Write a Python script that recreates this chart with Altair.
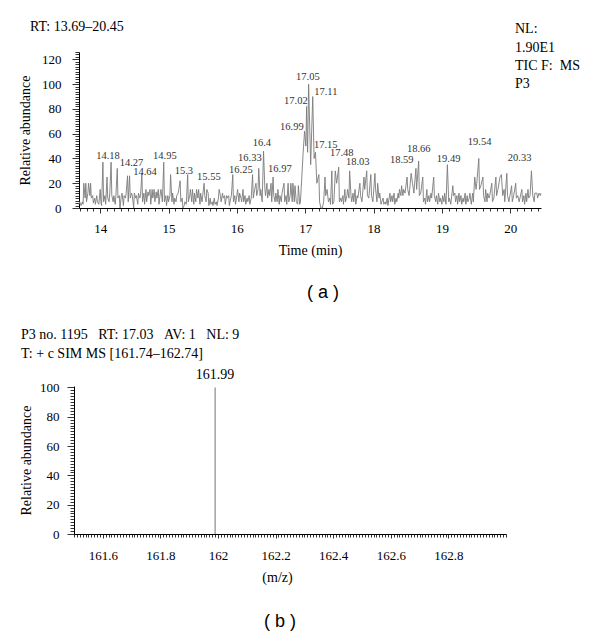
import json
import altair as alt
import pandas as pd

SERIF = "Liberation Serif"
SANS = "Liberation Sans"

# ---------------- panel (a): total ion chromatogram ----------------
rt_time = [
    13.69, 13.70, 13.72, 13.74, 13.75, 13.76, 13.78, 13.79, 13.80, 13.82,
    13.83, 13.85, 13.86, 13.87, 13.89, 13.90, 13.92, 13.93, 13.95, 13.96,
    13.98, 14.00, 14.01, 14.02, 14.04, 14.05, 14.07, 14.08, 14.10, 14.11,
    14.13, 14.14, 14.16, 14.17, 14.19, 14.20, 14.22, 14.23, 14.25, 14.26,
    14.28, 14.29, 14.31, 14.32, 14.34, 14.35, 14.37, 14.38, 14.40, 14.41,
    14.43, 14.44, 14.46, 14.47, 14.49, 14.50, 14.52, 14.53, 14.55, 14.56,
    14.58, 14.59, 14.61, 14.62, 14.64, 14.65, 14.67, 14.68, 14.70, 14.71,
    14.73, 14.74, 14.76, 14.77, 14.79, 14.80, 14.82, 14.83, 14.85, 14.86,
    14.88, 14.89, 14.91, 14.93, 14.94, 14.96, 14.97, 14.99, 15.00, 15.02,
    15.03, 15.05, 15.06, 15.08, 15.09, 15.11, 15.12, 15.14, 15.15, 15.17,
    15.18, 15.20, 15.21, 15.23, 15.24, 15.26, 15.28, 15.29, 15.31, 15.32,
    15.34, 15.35, 15.37, 15.38, 15.40, 15.41, 15.43, 15.44, 15.46, 15.47,
    15.49, 15.50, 15.52, 15.53, 15.55, 15.56, 15.58, 15.59, 15.61, 15.62,
    15.64, 15.65, 15.67, 15.68, 15.70, 15.71, 15.73, 15.74, 15.76, 15.77,
    15.79, 15.80, 15.82, 15.83, 15.85, 15.86, 15.88, 15.89, 15.91, 15.92,
    15.94, 15.95, 15.97, 15.98, 16.00, 16.01, 16.03, 16.04, 16.06, 16.07,
    16.09, 16.10, 16.12, 16.13, 16.15, 16.16, 16.18, 16.19, 16.21, 16.23,
    16.24, 16.26, 16.28, 16.29, 16.31, 16.32, 16.34, 16.35, 16.37, 16.39,
    16.41, 16.42, 16.44, 16.45, 16.47, 16.48, 16.50, 16.51, 16.53, 16.54,
    16.56, 16.57, 16.59, 16.60, 16.62, 16.63, 16.65, 16.66, 16.69, 16.70,
    16.72, 16.73, 16.75, 16.76, 16.78, 16.79, 16.81, 16.82, 16.84, 16.85,
    16.87, 16.89, 16.90, 16.92, 16.93, 16.95, 16.97, 16.99, 17.01, 17.02,
    17.035, 17.05, 17.08, 17.11, 17.13, 17.15, 17.17, 17.20, 17.21, 17.23,
    17.25, 17.27, 17.29, 17.30, 17.32, 17.34, 17.36, 17.37, 17.39, 17.40,
    17.42, 17.44, 17.46, 17.49, 17.50, 17.52, 17.53, 17.55, 17.56, 17.58,
    17.59, 17.61, 17.62, 17.64, 17.65, 17.67, 17.68, 17.70, 17.71, 17.73,
    17.74, 17.76, 17.77, 17.80, 17.81, 17.83, 17.86, 17.87, 17.90, 17.91,
    17.93, 17.96, 17.97, 17.99, 18.02, 18.03, 18.05, 18.06, 18.08, 18.09,
    18.11, 18.12, 18.14, 18.15, 18.17, 18.18, 18.20, 18.21, 18.24, 18.25,
    18.27, 18.28, 18.30, 18.31, 18.33, 18.34, 18.36, 18.37, 18.38, 18.40,
    18.41, 18.43, 18.44, 18.46, 18.49, 18.50, 18.52, 18.55, 18.57, 18.59,
    18.62, 18.63, 18.66, 18.67, 18.69, 18.72, 18.73, 18.75, 18.76, 18.78,
    18.79, 18.81, 18.82, 18.84, 18.85, 18.88, 18.89, 18.91, 18.92, 18.94,
    18.95, 18.97, 18.98, 19.00, 19.01, 19.03, 19.04, 19.06, 19.08, 19.10,
    19.11, 19.13, 19.16, 19.17, 19.19, 19.20, 19.22, 19.23, 19.25, 19.26,
    19.28, 19.29, 19.31, 19.32, 19.34, 19.35, 19.37, 19.38, 19.40, 19.41,
    19.43, 19.45, 19.46, 19.48, 19.50, 19.51, 19.54, 19.55, 19.57, 19.60,
    19.61, 19.63, 19.64, 19.66, 19.67, 19.69, 19.70, 19.73, 19.74, 19.76,
    19.79, 19.80, 19.82, 19.85, 19.87, 19.89, 19.91, 19.92, 19.95, 19.96,
    19.98, 20.02, 20.03, 20.05, 20.08, 20.09, 20.11, 20.13, 20.17, 20.18,
    20.20, 20.21, 20.23, 20.24, 20.26, 20.27, 20.29, 20.31, 20.33, 20.35,
    20.36, 20.39, 20.40, 20.42, 20.44, 20.45,
]
rt_abund = [
    3, 5, 2, 5, 3, 20, 8, 20, 5, 12,
    20, 10, 20, 8, 10, 4, 8, 3, 10, 5,
    3, 15, 5, 2, 37, 5, 10, 3, 25, 8,
    5, 12, 37, 10, 5, 10, 3, 10, 32, 8,
    10, 0, 10, 12, 2, 10, 8, 12, 26, 5,
    26, 8, 12, 10, 0, 12, 8, 10, 3, 12,
    8, 10, 28, 5, 12, 3, 15, 5, 13, 10,
    15, 3, 15, 8, 15, 5, 13, 8, 15, 3,
    12, 15, 5, 37, 5, 10, 2, 10, 5, 10,
    27, 5, 12, 3, 8, 5, 10, 12, 15, 22,
    5, 8, 0, 2, 5, 3, 27, 5, 10, 15,
    5, 15, 3, 12, 5, 15, 8, 15, 3, 12,
    5, 10, 20, 10, 5, 15, 12, 2, 8, 3,
    5, 2, 8, 3, 5, 2, 8, 15, 10, 5,
    12, 8, 10, 3, 10, 8, 10, 2, 8, 10,
    27, 5, 10, 3, 10, 15, 5, 12, 8, 5,
    15, 5, 10, 3, 8, 5, 10, 3, 8, 27,
    8, 15, 20, 10, 15, 32, 10, 15, 5, 46,
    15, 10, 20, 8, 15, 10, 20, 5, 25, 10,
    5, 12, 5, 15, 3, 10, 5, 12, 20, 5,
    10, 3, 20, 5, 10, 20, 5, 20, 5, 18,
    5, 3, 18, 3, 5, 25, 45, 62, 50, 82,
    45, 100, 35, 90, 40, 45, 20, 27, 5, 0,
    0, 5, 25, 10, 15, 5, 8, 3, 30, 3,
    5, 30, 20, 33, 5, 8, 5, 10, 3, 15,
    5, 10, 15, 8, 30, 10, 5, 12, 5, 15,
    3, 10, 8, 20, 10, 5, 25, 15, 30, 10,
    8, 27, 10, 5, 28, 15, 5, 20, 8, 12,
    3, 5, 8, 3, 5, 3, 8, 2, 12, 5,
    10, 5, 12, 3, 8, 5, 12, 8, 15, 10,
    18, 10, 15, 12, 25, 15, 10, 28, 20, 12,
    32, 15, 38, 10, 12, 25, 5, 8, 3, 15,
    5, 10, 5, 12, 8, 25, 10, 5, 10, 3,
    12, 5, 8, 3, 10, 5, 12, 3, 35, 5,
    8, 3, 18, 10, 12, 5, 10, 3, 12, 5,
    10, 3, 8, 5, 12, 3, 10, 5, 8, 12,
    3, 12, 5, 25, 15, 20, 40, 15, 18, 25,
    10, 5, 15, 5, 12, 8, 10, 20, 5, 8,
    25, 10, 15, 25, 27, 10, 15, 5, 28, 10,
    5, 18, 5, 10, 20, 8, 10, 5, 15, 5,
    10, 3, 12, 5, 15, 8, 10, 30, 10, 5,
    12, 12, 8, 12, 10, 12,
]
assert len(rt_time) == len(rt_abund)

# peak annotations (text and where each label sits, in data units)
peak_label = ["14.18", "14.27", "14.64", "14.95", "15.3", "15.55", "16.25", "16.33",
              "16.4", "16.97", "16.99", "17.02", "17.05", "17.11", "17.15", "17.48",
              "18.03", "18.59", "18.66", "19.49", "19.54", "20.33"]
peak_label_time = [14.114, 14.458, 14.655, 14.947, 15.225, 15.591, 16.058, 16.19,
                   16.365, 16.629, 16.804, 16.863, 17.038, 17.301, 17.301, 17.535,
                   17.769, 18.412, 18.661, 19.099, 19.552, 20.137]
peak_label_abund = [41.9, 36.2, 29.0, 41.9, 29.8, 25.0, 30.6, 40.3,
                    52.3, 31.4, 65.2, 86.3, 105.5, 93.4, 50.7, 44.3,
                    37.0, 38.7, 47.5, 39.5, 53.2, 40.3]

x_major_a = [14.0, 15.0, 16.0, 17.0, 18.0, 19.0, 20.0]
x_ticks_a = [round(13.7 + 0.1 * i, 1) for i in range(68)]
y_ticks_a = list(range(0, 127, 2))

# ---------------- panel (b): SIM mass spectrum ----------------
mz_value = [161.99]
mz_abund = [100]
mz_label = ["161.99"]

x_major_b = [161.6, 161.8, 162.0, 162.2, 162.4, 162.6, 162.8]
x_ticks_b = [round(161.5 + 0.01 * i, 2) for i in range(151)]
y_ticks_b = list(range(0, 101, 2))

trace_df = pd.DataFrame({"t": rt_time, "a": rt_abund})
lab_df = pd.DataFrame({"t": peak_label_time, "a": peak_label_abund, "txt": peak_label})
ms_df = pd.DataFrame({"mz": mz_value, "ab": mz_abund, "txt": mz_label})
one = pd.DataFrame({"k": [0]})


def note(txt, x, y, size=14, align="left", font=SERIF):
    return alt.Chart(one).mark_text(
        text=txt, align=align, baseline="middle", font=font, fontSize=size, color="black"
    ).encode(x=alt.value(x), y=alt.value(y))


def marker(x, y1, y2):
    return alt.Chart(one).mark_rule(strokeOpacity=0).encode(
        x=alt.value(x), x2=alt.value(x), y=alt.value(y1), y2=alt.value(y2)
    )


common_axis = dict(grid=False, labelFont=SERIF, titleFont=SERIF, labelFontSize=13,
                   titleFontSize=14, titleFontWeight="normal", labelColor="black",
                   titleColor="black", domainColor="black", tickColor="black",
                   tickWidth=0.8, domainWidth=1, labelOverlap=False, labelFlush=False,
                   tickCount=1000)

maj_a = json.dumps(x_major_a)
x_axis_a = alt.Axis(
    values=x_ticks_a,
    labelExpr=f"indexof({maj_a}, datum.value) >= 0 ? toString(datum.value) : ''",
    tickSize={"condition": {"test": f"indexof({maj_a}, datum.value) >= 0", "value": 5}, "value": 3},
    title="Time (min)", labelPadding=9, titlePadding=8, **common_axis)
y_axis_a = alt.Axis(
    values=y_ticks_a,
    labelExpr="datum.value % 20 == 0 ? toString(datum.value) : ''",
    tickSize={"condition": {"test": "datum.value % 20 == 0", "value": 7}, "value": 4},
    title="Relative abundance", labelPadding=11, titlePadding=9, **common_axis)

trace = alt.Chart(trace_df).mark_line(color="#7a7a7a", strokeWidth=0.9).encode(
    x=alt.X("t:Q", scale=alt.Scale(domain=[13.69, 20.45], nice=False, zero=False), axis=x_axis_a),
    y=alt.Y("a:Q", scale=alt.Scale(domain=[0, 126], nice=False), axis=y_axis_a),
)
peak_text = alt.Chart(lab_df).mark_text(font=SERIF, fontSize=10.5, color="#333333",
                                         baseline="middle").encode(
    x="t:Q", y="a:Q", text="txt:N")

panel_a = alt.layer(
    trace, peak_text,
    note("RT: 13.69\u201320.45", -49, -25),
    note("NL:", 436, -23),
    note("1.90E1", 436, -4),
    note("TIC F:\u00a0\u00a0MS", 436, 14),
    note("P3", 436, 32),
    note("( a )", 244, 241, size=18, align="center", font=SANS),
    marker(-66, -39, 258),
).properties(width=462, height=156)

# panel (b) plot area sits 5 px left of panel (a)'s
SHIFT = 5
maj_b = json.dumps(x_major_b)
x_axis_b = alt.Axis(
    values=x_ticks_b,
    labelExpr=f"indexof({maj_b}, datum.value) >= 0 ? toString(datum.value) : ''",
    tickSize={"condition": {"test": f"indexof({maj_b}, datum.value) >= 0", "value": 4}, "value": 3},
    title="(m/z)", titleX=203 - SHIFT, labelPadding=11, titlePadding=8, **common_axis)
y_axis_b = alt.Axis(
    values=y_ticks_b, offset=SHIFT,
    labelExpr="datum.value % 20 == 0 ? toString(datum.value) : ''",
    tickSize={"condition": {"test": "datum.value % 20 == 0", "value": 7}, "value": 4},
    title="Relative abundance", labelPadding=8, titlePadding=6, **common_axis)

stick = alt.Chart(ms_df).mark_rule(color="#8a8a8a", strokeWidth=1.2).encode(
    x=alt.X("mz:Q", scale=alt.Scale(domain=[161.5, 163.0], nice=False, zero=False,
                                    range=[-SHIFT, 432 - SHIFT]), axis=x_axis_b),
    y=alt.Y("ab:Q", scale=alt.Scale(domain=[0, 101], nice=False), axis=y_axis_b),
    y2=alt.datum(0),
)
stick_text = alt.Chart(ms_df).mark_text(font=SERIF, fontSize=14, color="black",
                                         baseline="bottom", dy=-5).encode(
    x="mz:Q", y="ab:Q", text="txt:N")

gap = "\u00a0\u00a0\u00a0"
panel_b = alt.layer(
    stick, stick_text,
    note(f"P3 no. 1195{gap}RT: 17.03{gap}AV: 1{gap}NL: 9", -58, -51),
    note("T: + c SIM MS [161.74\u2013162.74]", -58, -32),
    note("( b )", 201, 236, size=18, align="center", font=SANS),
    marker(-66, -66, 0),
).properties(width=432, height=148)

chart = alt.concat(panel_a, panel_b, columns=1, spacing=10, align="none").properties(
    padding={"left": 5, "top": 5, "right": 5, "bottom": 0}
).configure_view(stroke=None)

chart.save("out.html", embed_options={"renderer": "svg", "actions": False})
